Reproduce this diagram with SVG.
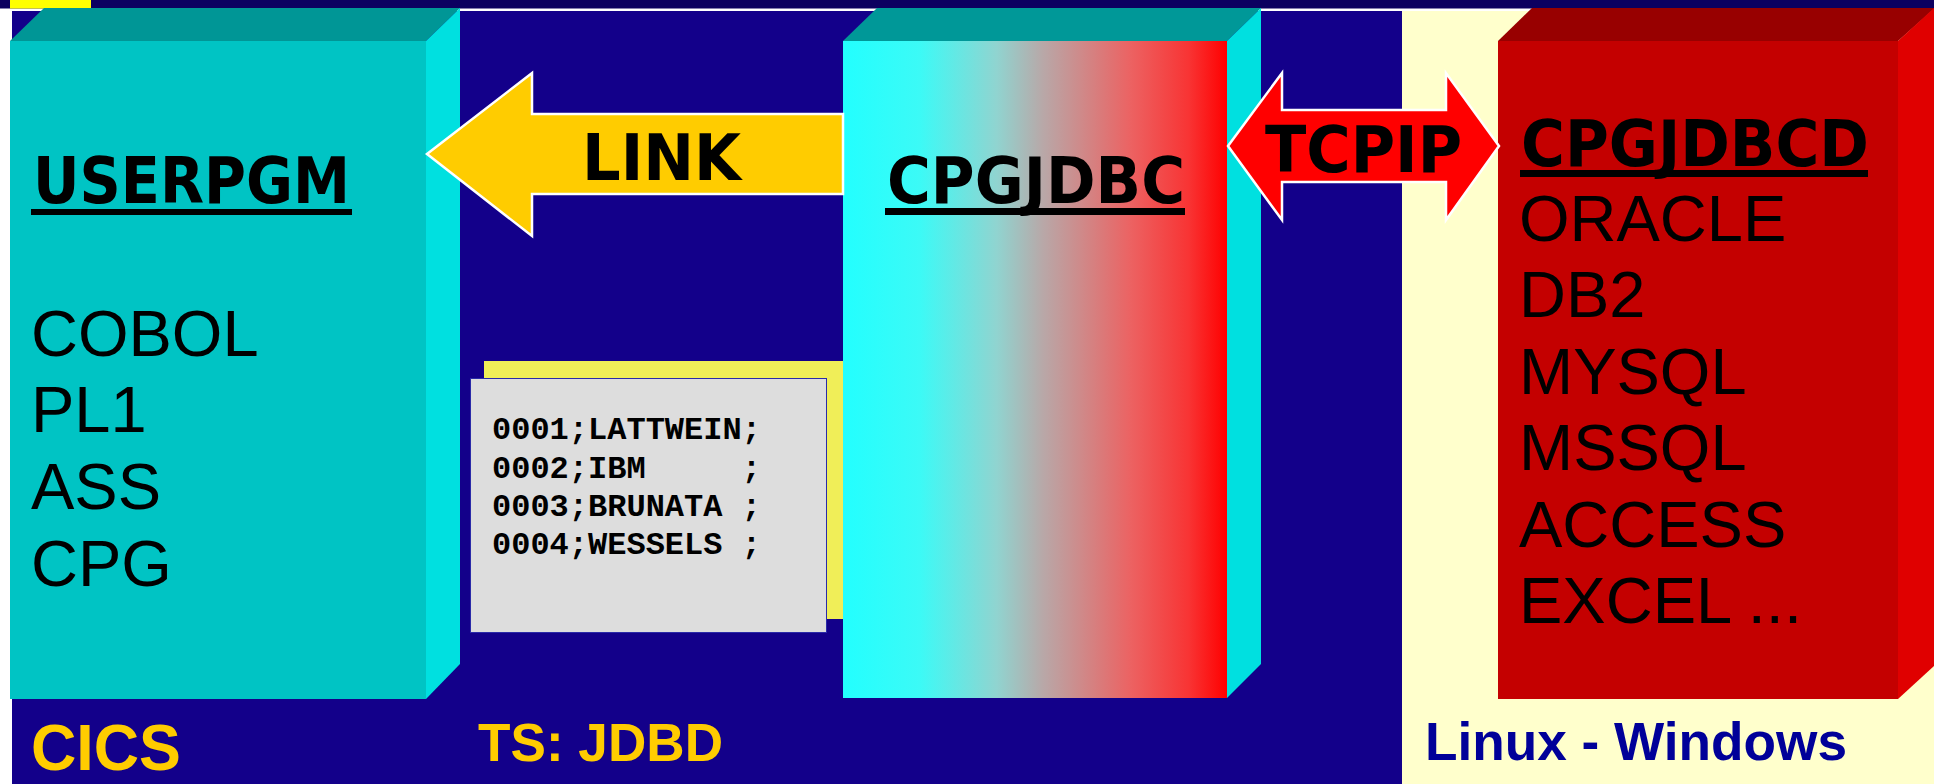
<svg xmlns="http://www.w3.org/2000/svg" width="1934" height="784" viewBox="0 0 1934 784">
<defs>
<linearGradient id="grad2" x1="0" y1="0" x2="1" y2="0">
<stop offset="0" stop-color="#22FFFF"/>
<stop offset="0.2" stop-color="#3CFAF6"/>
<stop offset="0.4" stop-color="#90D4D0"/>
<stop offset="0.52" stop-color="#B8A8A8"/>
<stop offset="0.75" stop-color="#EC6262"/>
<stop offset="0.9" stop-color="#F83434"/>
<stop offset="1" stop-color="#FF0000"/>
</linearGradient>
<style>
.title{font-family:"DejaVu Sans","Verdana",sans-serif;font-weight:bold;font-size:64px;fill:#000}
.item{font-family:"Liberation Sans",Arial,sans-serif;font-size:65px;fill:#000}
.data{font-family:"Liberation Mono","Courier New",monospace;font-weight:bold;font-size:32px;fill:#000;white-space:pre}
.label{font-family:"Liberation Sans",Arial,sans-serif;font-weight:bold}
.arrow{stroke:#FFFFFF;stroke-width:2.5;stroke-linejoin:miter}
</style>
</defs>
<rect x="0" y="0" width="1934" height="784" fill="#FFFFFF"/>
<rect x="0" y="0" width="1934" height="8.5" fill="#0C0060"/>
<rect x="10" y="0" width="81" height="8.5" fill="#FFFF00"/>
<rect x="12" y="11" width="1390" height="773" fill="#13008A"/>
<rect x="1402" y="11" width="532" height="773" fill="#FFFFCC"/>

<g id="node-userpgm">
<polygon points="10,41 44,8 460,8 426,41" fill="#009696"/>
<polygon points="426,41 460,8 460,664 426,699" fill="#00E0E0"/>
<rect x="10" y="41" width="416" height="658" fill="#00C4C4"/>
<text class="title" x="33" y="203" textLength="317" lengthAdjust="spacingAndGlyphs">USERPGM</text>
<rect x="31" y="209" width="321" height="6" fill="#000"/>
<text class="item" x="31" y="356">COBOL</text>
<text class="item" x="31" y="432">PL1</text>
<text class="item" x="31" y="509">ASS</text>
<text class="item" x="31" y="586">CPG</text>
</g>

<g id="node-ts">
<rect x="484" y="361" width="361" height="258" fill="#F0EE58"/>
<rect x="470.5" y="378.5" width="356" height="254" fill="#DDDDDD" stroke="#2A2AA8" stroke-width="1"/>
<text class="data" x="492" y="439" xml:space="preserve">0001;LATTWEIN;</text>
<text class="data" x="492" y="478" xml:space="preserve">0002;IBM     ;</text>
<text class="data" x="492" y="516" xml:space="preserve">0003;BRUNATA ;</text>
<text class="data" x="492" y="554" xml:space="preserve">0004;WESSELS ;</text>
</g>

<g id="node-cpgjdbc">
<polygon points="843,41 877,8 1261,8 1227,41" fill="#009898"/>
<polygon points="1227,41 1261,8 1261,664 1227,698" fill="#00E0E0"/>
<rect x="843" y="41" width="384" height="657" fill="url(#grad2)"/>
<text class="title" x="887" y="203" textLength="298" lengthAdjust="spacingAndGlyphs">CPGJDBC</text>
<rect x="885" y="208" width="300" height="7" fill="#000"/>
</g>

<g id="node-cpgjdbcd">
<polygon points="1498,41 1532,8 1934,8 1934,9 1898,41" fill="#980000"/>
<polygon points="1898,41 1934,8 1934,666 1898,699" fill="#E00000"/>
<rect x="1498" y="41" width="400" height="658" fill="#C40000"/>
<text class="title" x="1521" y="166" textLength="348" lengthAdjust="spacingAndGlyphs">CPGJDBCD</text>
<rect x="1520" y="170" width="348" height="7" fill="#000"/>
<text class="item" x="1519" y="241">ORACLE</text>
<text class="item" x="1519" y="317">DB2</text>
<text class="item" x="1519" y="394">MYSQL</text>
<text class="item" x="1519" y="470">MSSQL</text>
<text class="item" x="1519" y="547">ACCESS</text>
<text class="item" x="1519" y="623">EXCEL ...</text>
</g>

<g id="connectors">
<g id="link">
<polygon class="arrow" points="427,154 532,73 532,114 843,114 843,194 532,194 532,236" fill="#FFCC00"/>
<text class="title" x="582" y="180" textLength="159" lengthAdjust="spacingAndGlyphs">LINK</text>
</g>
<g id="tcpip">
<polygon class="arrow" points="1228,146 1282,73 1282,110 1446,110 1446,73 1499,146 1446,220 1446,182 1282,182 1282,220" fill="#FF0000"/>
<text class="title" x="1265" y="172" textLength="197" lengthAdjust="spacingAndGlyphs">TCPIP</text>
</g>
</g>

<g id="labels">
<text class="label" x="31" y="770" font-size="65" fill="#FFCC00" textLength="150" lengthAdjust="spacingAndGlyphs">CICS</text>
<text class="label" x="478" y="761" font-size="53" fill="#FFCC00" textLength="245" lengthAdjust="spacingAndGlyphs">TS: JDBD</text>
<text class="label" x="1425" y="760" font-size="53" fill="#000099" textLength="422" lengthAdjust="spacingAndGlyphs">Linux - Windows</text>
</g>
</svg>
